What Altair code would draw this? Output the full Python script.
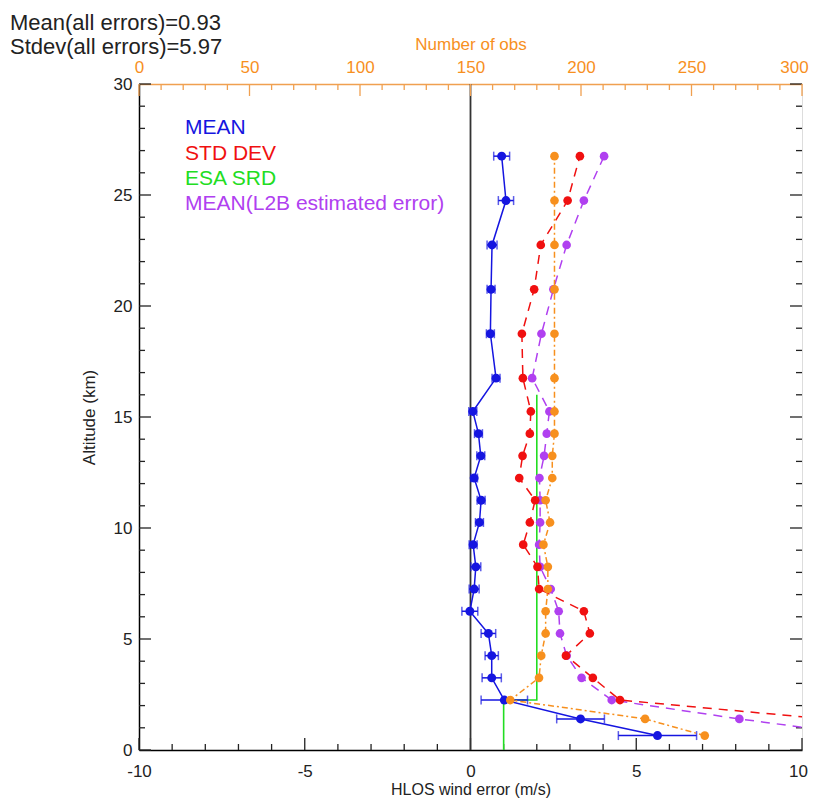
import altair as alt
import pandas as pd

# ---- data ----
alt_km = [26.75, 24.75, 22.75, 20.75, 18.75, 16.75, 15.25, 14.25, 13.25, 12.25, 11.25,
          10.25, 9.25, 8.25, 7.25, 6.25, 5.25, 4.25, 3.25, 2.25, 1.4, 0.65]
mean_err = [0.94, 1.07, 0.65, 0.62, 0.60, 0.77, 0.07, 0.24, 0.31, 0.11, 0.32,
            0.27, 0.08, 0.16, 0.11, -0.02, 0.54, 0.64, 0.64, 1.02, 3.32, 5.64]
mean_ci = [0.24, 0.23, 0.15, 0.12, 0.12, 0.12, 0.12, 0.12, 0.12, 0.10, 0.12,
           0.12, 0.12, 0.15, 0.15, 0.24, 0.22, 0.20, 0.29, 0.70, 0.72, 1.18]
std_dev = [3.30, 2.93, 2.12, 1.92, 1.55, 1.58, 1.82, 1.79, 1.57, 1.47, 1.95,
           1.79, 1.59, 2.02, 2.07, 3.42, 3.60, 2.88, 3.69, 4.51, 10.7, 13.0]
l2b_err = [4.03, 3.42, 2.90, 2.50, 2.14, 1.86, 2.38, 2.30, 2.22, 2.08, 2.10,
           2.10, 2.07, 2.10, 2.42, 2.66, 2.70, 2.90, 3.35, 4.26, 8.11, 11.9]
n_obs = [188, 188, 188, 188, 188, 188, 188, 188, 187, 187, 184,
         186, 183, 185, 185, 184, 184, 182, 181, 168, 229, 256]

srd_alt = [0.0, 2.25, 2.25, 16.0]
srd_val = [1.0, 1.0, 2.0, 2.0]

legend_labels = ["MEAN", "STD DEV", "ESA SRD", "MEAN(L2B estimated error)"]
legend_colors = ["#1515E0", "#F01010", "#22DD22", "#B040F0"]
legend_y = [27.73, 26.58, 25.45, 24.32]
legend_x = [-8.61, -8.61, -8.61, -8.61]

stats_text = ["Mean(all errors)=0.93", "Stdev(all errors)=5.97"]

x_ticks = [-10, -5, 0, 5, 10]
y_ticks = [0, 5, 10, 15, 20, 25, 30]
obs_ticks = [0, 50, 100, 150, 200, 250, 300]

BLUE, RED, GREEN, PURPLE = legend_colors
ORANGE = "#F7901E"
ORANGE_AX = "#F0A050"
FONT = "Liberation Sans"
W, H = 663, 666

df = pd.DataFrame({
    "alt": alt_km, "mean": mean_err,
    "lo": [m - c for m, c in zip(mean_err, mean_ci)],
    "hi": [m + c for m, c in zip(mean_err, mean_ci)],
    "std": std_dev, "l2b": l2b_err, "obs": n_obs,
})
srd_df = pd.DataFrame({"a": srd_alt, "v": srd_val, "i": list(range(len(srd_alt)))})
leg_df = pd.DataFrame({"t": legend_labels, "c": legend_colors, "x": legend_x, "y": legend_y})

xs = alt.Scale(domain=[-10, 10], nice=False, zero=False)
ys = alt.Scale(domain=[0, 30], nice=False, zero=False)
os_ = alt.Scale(domain=[0, 300], nice=False, zero=False)

x_axis = alt.Axis(title="HLOS wind error (m/s)", values=x_ticks, ticks=False, grid=False,
                  labelExpr="datum.value < 0 ? '-' + abs(datum.value) : '' + datum.value",
                  labelOffset={"condition": {"test": "datum.value == 10", "value": -4}, "value": 0},
                  domainColor="black", domainWidth=1.5, labelPadding=13, titlePadding=2,
                  labelFlush=False, labelOverlap=False, labelFontSize=17, titleFontSize=16,
                  labelColor="#222", titleColor="#222", titleFontWeight="normal", labelFont=FONT, titleFont=FONT)
y_axis = alt.Axis(title="Altitude (km)", values=y_ticks, ticks=False, grid=False,
                  domainColor="black", domainWidth=1.5, labelPadding=7, titlePadding=15,
                  labelFlush=False, labelOverlap=False, labelFontSize=17, titleFontSize=17,
                  labelColor="#222", titleColor="#222", titleFontWeight="normal", labelFont=FONT, titleFont=FONT)
o_axis = alt.Axis(title="Number of obs", orient="top", values=obs_ticks, ticks=False, grid=False,
                  labelOffset={"condition": {"test": "datum.value == 300", "value": -8}, "value": 0},
                  domainColor=ORANGE_AX, domainWidth=1.5, labelPadding=8, titlePadding=5,
                  labelFlush=False, labelOverlap=False, labelFontSize=17, titleFontSize=17,
                  labelColor=ORANGE, titleColor=ORANGE, titleFontWeight="normal", labelFont=FONT, titleFont=FONT)


def X(f):
    return alt.X(f, type="quantitative", scale=xs, axis=x_axis)


def Y(f):
    return alt.Y(f, type="quantitative", scale=ys, axis=y_axis)


def XO(f):
    return alt.X(f, type="quantitative", scale=os_, axis=o_axis)


base = alt.Chart(df)

zero_line = alt.Chart(pd.DataFrame({"x": [0]})).mark_rule(color="#333", strokeWidth=1.8).encode(x=X("x"))

green = alt.Chart(srd_df).mark_line(color=GREEN, strokeWidth=1.6).encode(
    x=X("v"), y=Y("a"), order=alt.Order("i:Q"))

purple_line = base.mark_line(color=PURPLE, strokeWidth=1.5, strokeDash=[9, 7], clip=True).encode(
    x=X("l2b"), y=Y("alt"), order=alt.Order("alt:Q"))
purple_pts = base.mark_circle(color=PURPLE, size=75, opacity=1, clip=True).encode(x=X("l2b"), y=Y("alt"))

red_line = base.mark_line(color=RED, strokeWidth=1.5, strokeDash=[9, 7], clip=True).encode(
    x=X("std"), y=Y("alt"), order=alt.Order("alt:Q"))
red_pts = base.mark_circle(color=RED, size=75, opacity=1, clip=True).encode(x=X("std"), y=Y("alt"))

blue_line = base.mark_line(color=BLUE, strokeWidth=1.5).encode(
    x=X("mean"), y=Y("alt"), order=alt.Order("alt:Q"))
blue_err = base.mark_rule(color=BLUE, strokeWidth=1.5).encode(x=X("lo"), x2="hi", y=Y("alt"))
blue_cap_lo = base.mark_tick(color=BLUE, orient="vertical", size=9, thickness=1.5).encode(x=X("lo"), y=Y("alt"))
blue_cap_hi = base.mark_tick(color=BLUE, orient="vertical", size=9, thickness=1.5).encode(x=X("hi"), y=Y("alt"))
blue_pts = base.mark_circle(color=BLUE, size=80, opacity=1).encode(x=X("mean"), y=Y("alt"))

# inward ticks on the frame (bottom, left, right)
xt_df = pd.DataFrame({"v": list(range(-10, 11))})
yt_df = pd.DataFrame({"v": list(range(0, 31))})
bot_minor = alt.Chart(xt_df).transform_filter("datum.v % 5 != 0").mark_rule(color="#222", strokeWidth=1.3).encode(
    x=X("v"), y=alt.value(H), y2=alt.value(H - 6))
bot_major = alt.Chart(xt_df).transform_filter("datum.v % 5 == 0").mark_rule(color="#222", strokeWidth=1.3).encode(
    x=X("v"), y=alt.value(H), y2=alt.value(H - 12))
left_minor = alt.Chart(yt_df).transform_filter("datum.v % 5 != 0").mark_rule(color="#222", strokeWidth=1.3).encode(
    y=Y("v"), x=alt.value(0), x2=alt.value(6))
left_major = alt.Chart(yt_df).transform_filter("datum.v % 5 == 0").mark_rule(color="#222", strokeWidth=1.3).encode(
    y=Y("v"), x=alt.value(0), x2=alt.value(12))
right_minor = alt.Chart(yt_df).transform_filter("datum.v % 5 != 0").mark_rule(color="#222", strokeWidth=1.3).encode(
    y=Y("v"), x=alt.value(W), x2=alt.value(W - 6))
right_major = alt.Chart(yt_df).transform_filter("datum.v % 5 == 0").mark_rule(color="#222", strokeWidth=1.3).encode(
    y=Y("v"), x=alt.value(W), x2=alt.value(W - 12))

legend = alt.Chart(leg_df).mark_text(align="left", baseline="alphabetic", fontSize=21, font=FONT).encode(
    x=X("x"), y=Y("y"), text="t:N", color=alt.Color("c:N", scale=None))

stat1 = alt.Chart(pd.DataFrame({"t": [stats_text[0]]})).mark_text(
    align="left", baseline="alphabetic", fontSize=22, font=FONT, color="#222").encode(
    text="t:N", x=alt.value(-129), y=alt.value(-54))
stat2 = alt.Chart(pd.DataFrame({"t": [stats_text[1]]})).mark_text(
    align="left", baseline="alphabetic", fontSize=22, font=FONT, color="#222").encode(
    text="t:N", x=alt.value(-129), y=alt.value(-30))

ms_group = alt.layer(
    bot_minor, bot_major, left_minor, left_major, right_minor, right_major,
    zero_line, green, purple_line, red_line, blue_err, blue_cap_lo, blue_cap_hi, blue_line,
    blue_pts, purple_pts, red_pts, legend, stat1, stat2,
)

ot_df = pd.DataFrame({"v": list(range(0, 301, 10))})
top_minor = alt.Chart(ot_df).transform_filter("datum.v % 50 != 0").mark_rule(color=ORANGE_AX, strokeWidth=1.3).encode(
    x=XO("v"), y=alt.value(0), y2=alt.value(6))
top_major = alt.Chart(ot_df).transform_filter("datum.v % 50 == 0").mark_rule(color=ORANGE_AX, strokeWidth=1.3).encode(
    x=XO("v"), y=alt.value(0), y2=alt.value(12))
orange_line = base.mark_line(color=ORANGE, strokeWidth=1.5, strokeDash=[6, 3, 2, 3], clip=True).encode(
    x=XO("obs"), y=Y("alt"), order=alt.Order("alt:Q"))
orange_pts = base.mark_circle(color=ORANGE, size=75, opacity=1, clip=True).encode(x=XO("obs"), y=Y("alt"))

obs_group = alt.layer(top_minor, top_major, orange_line, orange_pts)

chart = alt.layer(ms_group, obs_group).resolve_scale(x="independent").properties(
    width=W, height=H,
    autosize=alt.AutoSizeParams(type="none"),
    padding={"left": 131, "top": 76, "right": 7, "bottom": 53},
).configure_view(stroke="black", strokeWidth=1.5).configure(background="white")

chart.save("out.html", embed_options={"renderer": "svg", "actions": False})
